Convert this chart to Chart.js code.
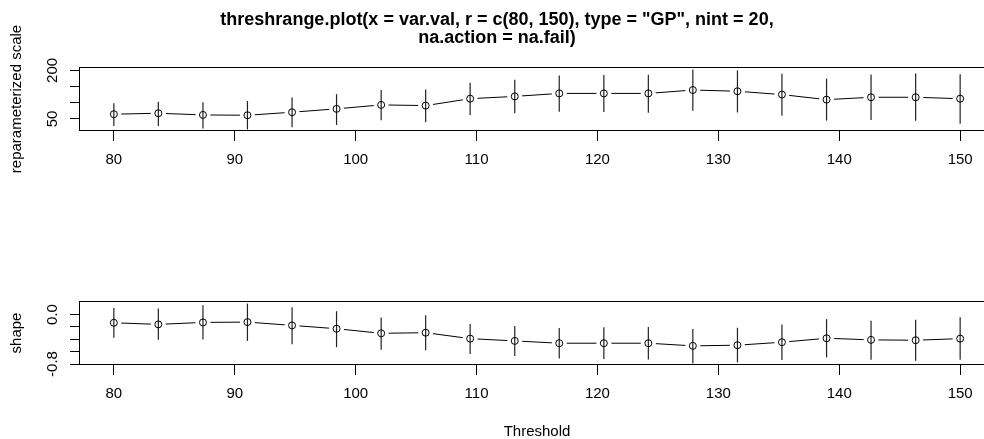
<!DOCTYPE html>
<html>
<head>
<meta charset="utf-8">
<script src="https://cdn.jsdelivr.net/npm/chart.js@4.4.0/dist/chart.umd.min.js"></script>
<style>
  html, body { margin: 0; padding: 0; background: #fff; overflow: hidden; width: 984px; height: 439px; }
  canvas { position: absolute; left: 0; }
  #topChart { top: 0; }
  #bottomChart { top: 230px; }
</style>
</head>
<body>
<canvas id="topChart" width="1074" height="190"></canvas>
<canvas id="bottomChart" width="1074" height="211"></canvas>
<script>
// thresholds (x)
var thresholds = [80, 83.68, 87.37, 91.05, 94.74, 98.42, 102.11, 105.79, 109.47, 113.16,
                  116.84, 120.53, 124.21, 127.89, 131.58, 135.26, 138.95, 142.63, 146.32, 150];

// reparameterized scale: estimate and interval
var scaleEst  = [64.6, 67.6, 62.4, 61.4, 70.8, 81.2, 93.4, 91.3, 112.6, 119.7,
                 128.9, 128.9, 128.9, 139.4, 135.6, 125.3, 109.7, 117.0, 117.0, 112.6];
var scaleLow  = [28.3, 28.3, 20.5, 17.6, 24.0, 31.5, 46.1, 39.7, 62.1, 67.3,
                 72.2, 71.2, 69.3, 75.4, 70.2, 60.2, 44.7, 46.8, 44.7, 35.1];
var scaleHigh = [98.8, 103.4, 101.4, 105.3, 116.1, 126.5, 139.2, 140.7, 162.2, 170.9,
                 184.6, 185.5, 186.5, 203.1, 200.2, 189.4, 174.8, 187.5, 190.4, 188.5];

// shape: estimate and interval
var shapeEst  = [-0.134, -0.160, -0.128, -0.123, -0.176, -0.230, -0.304, -0.294, -0.390, -0.427,
                 -0.464, -0.464, -0.464, -0.507, -0.496, -0.448, -0.384, -0.410, -0.416, -0.390];
var shapeLow  = [-0.374, -0.410, -0.406, -0.427, -0.480, -0.528, -0.571, -0.576, -0.640, -0.672,
                 -0.710, -0.720, -0.726, -0.790, -0.774, -0.736, -0.694, -0.730, -0.747, -0.730];
var shapeHigh = [0.106, 0.096, 0.149, 0.176, 0.117, 0.053, -0.048, -0.011, -0.155, -0.187,
                 -0.219, -0.208, -0.203, -0.235, -0.214, -0.160, -0.075, -0.102, -0.086, -0.043];

// axis ticks
var xTicks = [80, 90, 100, 110, 120, 130, 140, 150];
var scaleTicks = [50, 100, 150, 200];
var scaleTickLabels = ['50', '', '', '200'];
var shapeTicks = [0, -0.2, -0.4, -0.6, -0.8];
var shapeTickLabels = ['0.0', '', '', '', '-0.8'];

var FONT = "'Liberation Sans', Arial, Helvetica, sans-serif";

function makePanel(id, est, low, high, yMin, yMax, yTicks, yLabels, yTitle, opts) {
    // box around the plot, rotated y tick labels, vertical interval segments
    var rPlot = {
        id: 'rPlot',
        afterDatasetDraw: function(chart, args) {
            if (args.index !== 1) return;
            var ctx = chart.ctx, x = chart.scales.x, y = chart.scales.y;
            ctx.save();
            ctx.strokeStyle = '#222';
            ctx.lineWidth = 1.2;
            for (var i = 0; i < thresholds.length; i++) {
                var px = x.getPixelForValue(thresholds[i]);
                ctx.beginPath();
                ctx.moveTo(px, y.getPixelForValue(low[i]));
                ctx.lineTo(px, y.getPixelForValue(high[i]));
                ctx.stroke();
            }
            ctx.restore();
        },
        afterDraw: function(chart) {
            var ctx = chart.ctx, a = chart.chartArea, y = chart.scales.y;
            ctx.save();
            ctx.strokeStyle = '#000';
            ctx.lineWidth = 1;
            ctx.strokeRect(a.left - 0.5, a.top + 0.5, a.right - a.left, a.bottom - a.top - 1);
            ctx.fillStyle = '#000';
            ctx.font = '15px ' + FONT;
            ctx.textAlign = 'center';
            ctx.textBaseline = 'middle';
            for (var i = 0; i < yTicks.length; i++) {
                if (!yLabels[i]) continue;
                ctx.save();
                ctx.translate(52.5, y.getPixelForValue(yTicks[i]));
                ctx.rotate(-Math.PI / 2);
                ctx.fillText(yLabels[i], 0, 0);
                ctx.restore();
            }
            ctx.restore();
        }
    };

    var pts = function(vals) {
        return thresholds.map(function(t, i) { return {x: t, y: vals[i]}; });
    };

    return new Chart(document.getElementById(id), {
        type: 'line',
        data: {
            datasets: [{
                data: pts(est),
                showLine: false,
                pointRadius: 3.5,
                pointBorderWidth: 1,
                pointBorderColor: '#000',
                pointBackgroundColor: 'rgba(0,0,0,0)',
                order: 0
            }, {
                data: pts(est),
                borderColor: '#000',
                borderWidth: 1,
                pointRadius: 7.5,
                pointBorderWidth: 0,
                pointBackgroundColor: '#fff',
                order: 1
            }]
        },
        options: {
            responsive: false,
            animation: false,
            events: [],
            layout: { padding: { top: opts.padTop, right: 80, left: 0, bottom: 0 } },
            plugins: {
                legend: { display: false },
                tooltip: { enabled: false },
                title: opts.title || { display: false }
            },
            scales: {
                x: {
                    type: 'linear',
                    min: 77.2,
                    max: 152.8,
                    afterBuildTicks: function(s) { s.ticks = xTicks.map(function(v) { return {value: v}; }); },
                    afterFit: function(s) { s.height = opts.xHeight; },
                    grid: { drawOnChartArea: false, drawTicks: true, tickLength: 10, color: '#000' },
                    border: { display: false },
                    ticks: { autoSkip: false, maxRotation: 0, padding: 10, color: '#000', font: { family: FONT, size: 15 } },
                    title: opts.xTitle || { display: false }
                },
                y: {
                    type: 'linear',
                    min: yMin,
                    max: yMax,
                    afterBuildTicks: function(s) { s.ticks = yTicks.map(function(v) { return {value: v}; }); },
                    afterFit: function(s) { s.width = 80; },
                    grid: { drawOnChartArea: false, drawTicks: true, tickLength: 10, color: '#000' },
                    border: { display: false },
                    ticks: { display: false },
                    title: { display: true, text: yTitle, color: '#000', padding: { top: 8, bottom: 0 }, font: { family: FONT, size: 15 } }
                }
            }
        },
        plugins: [rPlot]
    });
}

document.addEventListener("DOMContentLoaded", function() {
    makePanel('topChart', scaleEst, scaleLow, scaleHigh, 12.7, 210.6, scaleTicks, scaleTickLabels,
        'reparameterized scale', {
            padTop: 0,
            xHeight: 59,
            title: {
                display: true,
                text: ['threshrange.plot(x = var.val, r = c(80, 150), type = "GP", nint = 20,', 'na.action = na.fail)'],
                color: '#000',
                padding: { top: 11, bottom: 20 },
                font: { family: FONT, size: 18, weight: 'bold', lineHeight: 1.0 }
            }
        });

    makePanel('bottomChart', shapeEst, shapeLow, shapeHigh, -0.816, 0.218, shapeTicks, shapeTickLabels,
        'shape', {
            padTop: 71,
            xHeight: 76,
            xTitle: { display: true, text: 'Threshold', color: '#000', padding: { top: 0, bottom: 0 }, font: { family: FONT, size: 15 } }
        });
});
</script>
</body>
</html>
